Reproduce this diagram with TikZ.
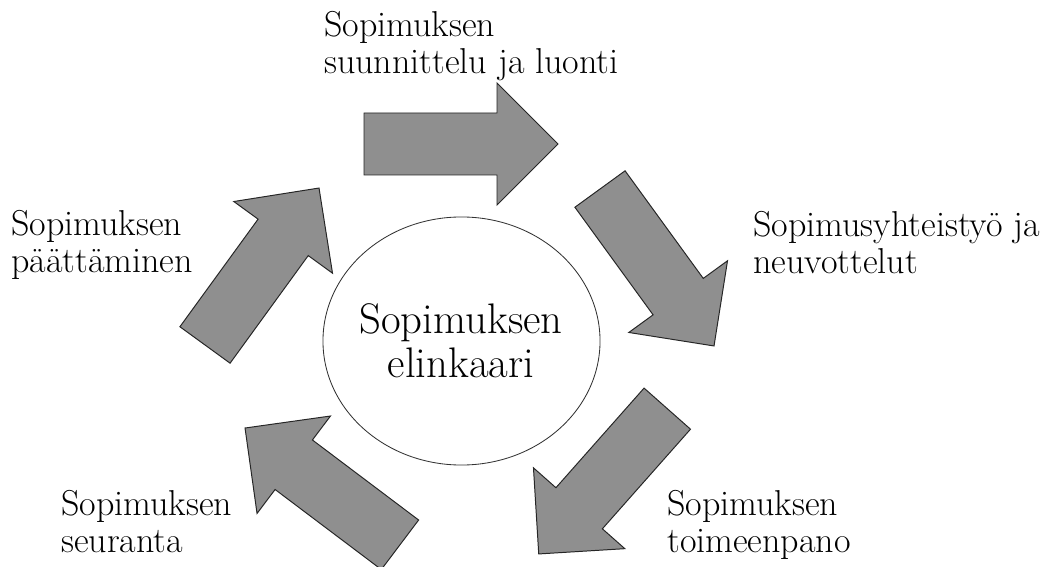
\documentclass[tikz,border=0pt]{standalone}
\usepackage{fontspec}
\usetikzlibrary{shapes.geometric}

\definecolor{arrowgrey}{RGB}{143,143,143}

\tikzset{
  stagearrow/.pic={
    \draw[fill=arrowgrey, draw=black!85, line width=0.7pt, line join=miter]
      (-97,-31) -- (36,-31) -- (36,-61) -- (97,0) -- (36,61) -- (36,31) -- (-97,31) -- cycle;
  }
}

\begin{document}
\begin{tikzpicture}[x=0.025cm, y=0.025cm,
    stagelabel/.style={anchor=north west, align=left, inner sep=0pt,
      font=\fontsize{25.6pt}{26.7pt}\selectfont}]
  \useasboundingbox (0,0) rectangle (1051,566);
  % centre
  \node[ellipse, draw=black!80, line width=0.6pt, minimum width=6.925cm, minimum height=6.2cm]
    (ring) at (461.5,225) {};
  \node[align=center, inner sep=0pt, font=\fontsize{30.4pt}{31.3pt}\selectfont] (core)
    at (461,225) {Sopimuksen\\elinkaari};
  % arrows
  \pic (plan) at (461,422) {stagearrow};
  \pic[rotate=-54] (coop) at (657,298.5) {stagearrow};
  \pic[rotate=-131.5] (impl) at (603,84.7) {stagearrow};
  \pic[rotate=143] (follow) at (322.5,79.6) {stagearrow};
  \pic[rotate=54] (finish) at (262,299.5) {stagearrow};
  % labels
  \node[stagelabel] (planlabel) at (324,555) {Sopimuksen\\suunnittelu ja luonti};
  \node[stagelabel] (cooplabel) at (753,355) {Sopimusyhteistyö ja\\neuvottelut};
  \node[stagelabel] (impllabel) at (667,76) {Sopimuksen\\toimeenpano};
  \node[stagelabel] (followlabel) at (61,76) {Sopimuksen\\seuranta};
  \node[stagelabel] (finishlabel) at (11,356) {Sopimuksen\\päättäminen};
\end{tikzpicture}
\end{document}
